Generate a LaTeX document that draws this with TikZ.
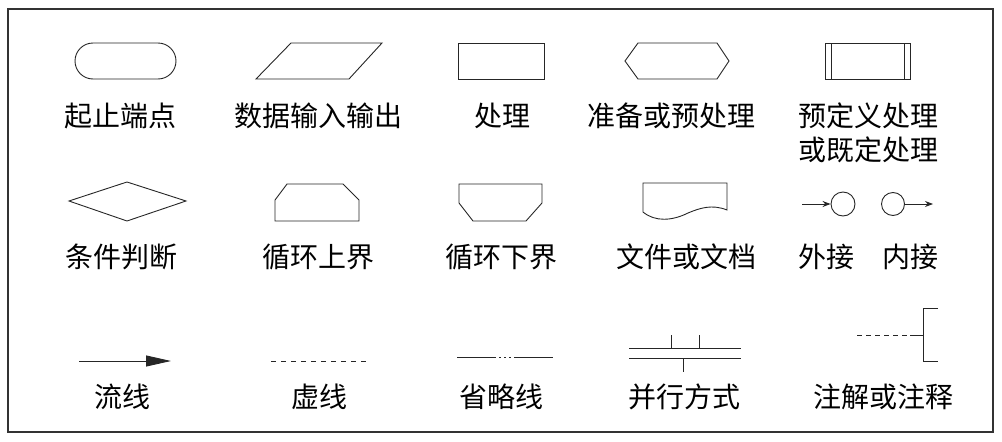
\documentclass[tikz,border=0pt]{standalone}
\usepackage{fontspec}
\newfontfamily\cjk{Noto Sans CJK SC}
\usetikzlibrary{arrows.meta}
\begin{document}
\begin{tikzpicture}[x=1pt,y=-1pt,
  shp/.style={draw=black!85,line width=0.9pt},
  lbl/.style={inner sep=0pt,font=\cjk\fontsize{28}{34}\selectfont,align=center},
  dsh/.style={shp,dash pattern=on 5pt off 5pt},
  smallarrow/.style={shp,-{Stealth[length=8pt,width=6pt]}}]
\useasboundingbox (0,0) rectangle (1002,442);
\draw[line width=1.2pt,draw=black!80] (8,9) rectangle (993,432);

% Row 1 shapes
\draw[shp,rounded corners=18pt] (75,43) rectangle (176,79);
\draw[shp] (291,43) -- (382,43) -- (349,79) -- (256,79) -- cycle;
\draw[shp] (458,43) rectangle (544,79);
\draw[shp] (638,43) -- (717,43) -- (729,61) -- (717,79) -- (638,79) -- (625,61) -- cycle;
\draw[shp] (825,43) rectangle (910,79);
\draw[shp] (831,43) -- (831,79);
\draw[shp] (904,43) -- (904,79);

% Row 1 labels
\node[lbl] (l1) at (120,116) {起止端点};
\node[lbl] (l2) at (318,116) {数据输入输出};
\node[lbl] (l3) at (502,116) {处理};
\node[lbl] (l4) at (671,116) {准备或预处理};
\node[lbl] (l5) at (868,133) {预定义处理\\或既定处理};

% Row 2 shapes
\draw[shp] (69,201) -- (127,182) -- (186,201) -- (127,221) -- cycle;
\draw[shp] (275,221) -- (275,200) -- (287,184) -- (343,184) -- (359,200) -- (359,221) -- cycle;
\draw[shp] (459,184) -- (542,184) -- (542,203) -- (526,221) -- (473,221) -- (459,203) -- cycle;
\draw[shp] (643,212) -- (643,183) -- (727,183) -- (727,210)
  .. controls (712,204) and (700,208) .. (688,213)
  .. controls (672,221) and (655,222) .. (643,212);
\node[shp,circle,minimum size=24pt,inner sep=0pt] (ext) at (843,204) {};
\node[shp,circle,minimum size=23pt,inner sep=0pt] (int) at (893,204) {};
\coordinate (extin) at (802,204);
\coordinate (intout) at (933,204);
\draw[smallarrow] (extin) -- (ext);
\draw[smallarrow] (int) -- (intout);

% Row 2 labels
\node[lbl] (m1) at (121,257) {条件判断};
\node[lbl] (m2) at (318,257) {循环上界};
\node[lbl] (m3) at (501,257) {循环下界};
\node[lbl] (m4) at (686,257) {文件或文档};
\node[lbl] (m5) at (826,257) {外接};
\node[lbl] (m6) at (910,257) {内接};

% Row 3 shapes
\coordinate (fa) at (79,361);
\coordinate (fb) at (171,361);
\draw[shp,-{Triangle[length=25pt,width=11pt]}] (fa) -- (fb);
\coordinate (da) at (271,361);
\coordinate (db) at (370,361);
\draw[dsh] (da) -- (db);
\draw[shp] (457,357) -- (496,357);
\draw[shp,dash pattern=on 2pt off 3pt] (499,357) -- (512,357);
\draw[shp] (514,357) -- (553,357);
\draw[shp] (629,348) -- (741,348);
\draw[shp] (629,358) -- (741,358);
\draw[shp] (671,335) -- (671,348);
\draw[shp] (699,335) -- (699,348);
\draw[shp] (683,358) -- (683,372);
\draw[shp,dash pattern=on 5pt off 4pt] (857,335) -- (910,335);
\draw[shp] (910,335) -- (923,335);
\draw[shp] (938,308) -- (923,308) -- (923,361) -- (938,361);

% Row 3 labels
\node[lbl] (n1) at (122,397) {流线};
\node[lbl] (n2) at (319,397) {虚线};
\node[lbl] (n3) at (501,397) {省略线};
\node[lbl] (n4) at (684,397) {并行方式};
\node[lbl] (n5) at (883,397) {注解或注释};
\end{tikzpicture}
\end{document}
